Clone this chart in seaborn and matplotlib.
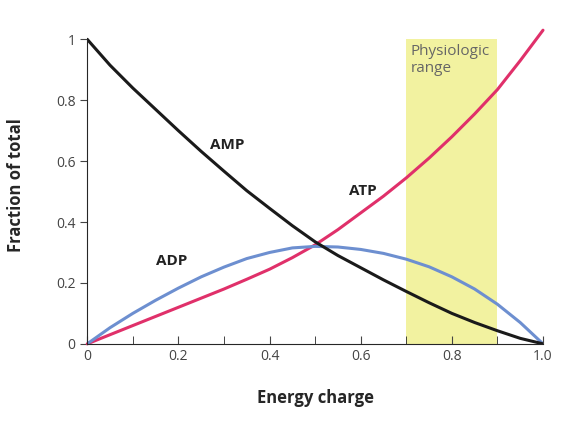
import matplotlib
matplotlib.use("Agg")
import matplotlib.pyplot as plt
import seaborn as sns
import pandas as pd

energy = [0, 0.05, 0.1, 0.15, 0.2, 0.25, 0.3, 0.35, 0.4, 0.45, 0.5, 0.55, 0.6, 0.65, 0.7, 0.75, 0.8, 0.85, 0.9, 0.95, 1.0]
atp = [0, 0.03, 0.06, 0.09, 0.12, 0.15, 0.18, 0.212, 0.245, 0.283, 0.325, 0.375, 0.43, 0.485, 0.545, 0.61, 0.68, 0.755, 0.835, 0.93, 1.03]
adp = [0, 0.053, 0.10, 0.143, 0.183, 0.22, 0.252, 0.28, 0.30, 0.315, 0.32, 0.318, 0.31, 0.297, 0.278, 0.253, 0.22, 0.18, 0.13, 0.07, 0]
amp = [1.0, 0.915, 0.84, 0.77, 0.70, 0.632, 0.567, 0.503, 0.445, 0.388, 0.335, 0.29, 0.25, 0.21, 0.172, 0.135, 0.10, 0.07, 0.043, 0.018, 0]
band = (0.7, 0.9)
xticks = [0, 0.2, 0.4, 0.6, 0.8, 1.0]
xticklabels = ["0", "0.2", "0.4", "0.6", "0.8", "1.0"]
yticks = [0, 0.2, 0.4, 0.6, 0.8, 1.0]
yticklabels = ["0", "0.2", "0.4", "0.6", "0.8", "1"]

sns.set_style("ticks")
plt.rcParams['font.family'] = ['Open Sans', 'DejaVu Sans']
fig = plt.figure(figsize=(5.74, 4.38), dpi=100)
ax = fig.add_axes([0.152, 0.215, 0.794, 0.723])

ax.fill_between(band, 0, 1.0, color="#f2f2a0", zorder=0, lw=0)
df = pd.DataFrame({"E": energy, "ATP": atp, "ADP": adp, "AMP": amp})
sns.lineplot(data=df, x="E", y="ATP", color="#e0306a", lw=2.2, ax=ax, clip_on=False)
sns.lineplot(data=df, x="E", y="ADP", color="#6d8fd0", lw=2.2, ax=ax)
sns.lineplot(data=df, x="E", y="AMP", color="#1a1a1a", lw=2.2, ax=ax)

ax.text(0.27, 0.64, "AMP", fontsize=11, fontweight="bold", color="#222")
ax.text(0.575, 0.49, "ATP", fontsize=11, fontweight="bold", color="#222")
ax.text(0.15, 0.26, "ADP", fontsize=11, fontweight="bold", color="#222")
ax.text(0.71, 0.985, "Physiologic\nrange", fontsize=11, color="#666", va="top")

ax.set_xlim(0, 1.0)
ax.set_ylim(0, 1.04)
ax.set_xticks(xticks)
ax.set_xticklabels(xticklabels)
ax.set_xticks([0.1, 0.3, 0.5, 0.7, 0.9], minor=True)
ax.set_yticks(yticks)
ax.set_yticklabels(yticklabels)
ax.tick_params(axis="x", direction="in", length=6, labelsize=10, colors="#444")
ax.tick_params(axis="x", which="minor", direction="in", length=6)
ax.tick_params(axis="y", direction="out", length=5, labelsize=10, colors="#444")
sns.despine(ax=ax)
ax.spines["left"].set_bounds(0, 1)
ax.set_xlabel("Energy charge", fontsize=12, fontweight="bold", labelpad=18)
ax.set_ylabel("Fraction of total", fontsize=12, fontweight="bold", labelpad=22)
fig.savefig("out.png", dpi=100)
